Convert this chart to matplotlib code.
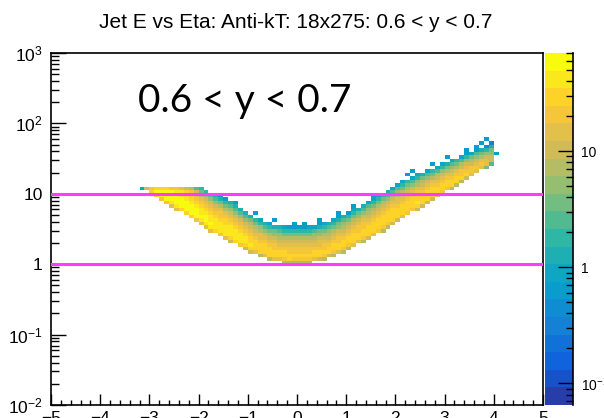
import numpy as np
import matplotlib
matplotlib.use("Agg")
import matplotlib.pyplot as plt
from matplotlib.colors import LinearSegmentedColormap, ListedColormap, BoundaryNorm
from matplotlib.ticker import FixedLocator, NullFormatter, FuncFormatter

plt.rcParams['font.family'] = ['Liberation Sans', 'DejaVu Sans']
plt.rcParams['mathtext.fontset'] = 'custom'
plt.rcParams['mathtext.rm'] = 'Liberation Sans'
plt.rcParams['mathtext.it'] = 'Liberation Sans:italic'
plt.rcParams['mathtext.bf'] = 'Liberation Sans:bold'

# ---------------- data ----------------
title = "Jet E vs Eta: Anti-kT: 18x275: 0.6 < y < 0.7"
overlay_label = "0.6 < y < 0.7"

x_range = (-5, 5)
y_range = (1e-2, 1e3)
z_range = (0.065, 70.0)
hlines = [10.0, 1.0]

# histogram binning
eta_edges = np.linspace(-5, 5, 101)
logE_edges = np.round(np.linspace(-2, 3, 101), 4)

# filled eta columns (bin centres)
col_eta = [-3.15, -3.05, -2.95, -2.85, -2.75, -2.65, -2.55, -2.45, -2.35, -2.25,
           -2.15, -2.05, -1.95, -1.85, -1.75, -1.65, -1.55, -1.45, -1.35, -1.25,
           -1.15, -1.05, -0.95, -0.85, -0.75, -0.65, -0.55, -0.45, -0.35, -0.25,
           -0.15, -0.05, 0.05, 0.15, 0.25, 0.35, 0.45, 0.55, 0.65, 0.75,
           0.85, 0.95, 1.05, 1.15, 1.25, 1.35, 1.45, 1.55, 1.65, 1.75,
           1.85, 1.95, 2.05, 2.15, 2.25, 2.35, 2.45, 2.55, 2.65, 2.75,
           2.85, 2.95, 3.05, 3.15, 3.25, 3.35, 3.45, 3.55, 3.65, 3.75,
           3.85, 3.95]
# lower edge of the band, log10(E)
col_lo = [1.09, 1.05, 1.00, 0.96, 0.92, 0.87, 0.83, 0.79, 0.75, 0.70,
          0.66, 0.62, 0.58, 0.54, 0.49, 0.45, 0.41, 0.37, 0.34, 0.30,
          0.26, 0.23, 0.19, 0.16, 0.13, 0.11, 0.08, 0.06, 0.05, 0.035,
          0.026, 0.022, 0.022, 0.026, 0.035, 0.05, 0.06, 0.08, 0.11, 0.13,
          0.16, 0.19, 0.23, 0.26, 0.30, 0.34, 0.37, 0.41, 0.45, 0.49,
          0.54, 0.58, 0.62, 0.66, 0.70, 0.75, 0.79, 0.83, 0.87, 0.92,
          0.96, 1.00, 1.05, 1.09, 1.13, 1.18, 1.22, 1.26, 1.31, 1.35,
          1.39, 1.44]
# upper (fading) edge of the band, log10(E)
col_hi = [1.45, 1.45, 1.45, 1.45, 1.45, 1.45, 1.45, 1.42, 1.37, 1.30,
          1.22, 1.14, 1.08, 1.04, 1.00, 0.96, 0.93, 0.89, 0.86, 0.82,
          0.78, 0.73, 0.69, 0.65, 0.62, 0.59, 0.57, 0.55, 0.54, 0.53,
          0.52, 0.52, 0.52, 0.52, 0.53, 0.54, 0.56, 0.58, 0.60, 0.63,
          0.66, 0.69, 0.72, 0.76, 0.80, 0.84, 0.88, 0.92, 0.96, 1.00,
          1.04, 1.08, 1.12, 1.16, 1.20, 1.23, 1.26, 1.29, 1.32, 1.35,
          1.38, 1.41, 1.44, 1.47, 1.50, 1.53, 1.56, 1.59, 1.62, 1.65,
          1.68, 1.72]
# peak content in each column
col_peak = [8, 30, 50, 60, 62, 62, 62, 62, 62, 60,
            60, 58, 56, 55, 54, 52, 50, 48, 46, 44,
            42, 40, 38, 36, 34, 32, 31, 30, 29, 28,
            28, 27, 27, 27, 27, 27, 27, 27, 27, 28,
            28, 29, 29, 30, 30, 31, 31, 32, 33, 34,
            34, 35, 35, 36, 36, 36, 36, 35, 35, 34,
            33, 32, 31, 30, 29, 27, 26, 24, 22, 20,
            16, 11]
# kinematic upper limit on the backward side only, log10(E)
cap_logE = 1.10
cap_eta_max = -1.9
cap_factor = 0.5
# shape across the band (bottom -> top), fraction of the column peak
prof_t = [0.0, 0.1, 0.2, 0.35, 0.5, 0.65, 0.8, 0.9, 1.0]
prof_f = [0.25, 0.9, 1.0, 0.8, 0.5, 0.3, 0.14, 0.065, 0.025]
# isolated low-content cells above the band (eta, log10 E)
speck_eta = [-1.55, -1.45, -1.25, -0.85, -0.45, -0.05, 0.15, 0.45, 0.85, 1.15,
             1.55, 2.25, 2.35, 2.75, 3.05, 3.45, 3.65, 3.75, 3.85, 4.05]
speck_logE = [0.975, 0.925, 0.875, 0.725, 0.625, 0.575, 0.575, 0.625, 0.725, 0.825,
              0.975, 1.275, 1.325, 1.425, 1.525, 1.625, 1.675, 1.725, 1.775, 1.575]
speck_val = [0.6] * len(speck_eta)

# ROOT kBird palette
bird_stops = [0.0, 0.125, 0.25, 0.375, 0.5, 0.625, 0.75, 0.875, 1.0]
bird_r = [0.2082, 0.0592, 0.0780, 0.0232, 0.1802, 0.5301, 0.8186, 0.9956, 0.9764]
bird_g = [0.1664, 0.3599, 0.5041, 0.6419, 0.7178, 0.7492, 0.7328, 0.7862, 0.9832]
bird_b = [0.5293, 0.8684, 0.8385, 0.7914, 0.6425, 0.4662, 0.3499, 0.1968, 0.0539]
n_contours = 20

# ---------------- build histogram ----------------
Hist = np.zeros((len(logE_edges) - 1, len(eta_edges) - 1))
for eta, lo, hi, pk in zip(col_eta, col_lo, col_hi, col_peak):
    j = int(np.searchsorted(eta_edges, eta) - 1)
    capped = (eta < cap_eta_max) and (hi > cap_logE)
    top = cap_logE if capped else hi
    for k in range(len(logE_edges) - 1):
        e0, e1 = logE_edges[k], logE_edges[k + 1]
        if e1 > lo and e0 < top - 1e-9:
            c = 0.5 * (e0 + e1)
            t = np.clip((c - lo) / (hi - lo), 0, 1)
            v = pk * np.interp(t, prof_t, prof_f)
            if capped and e1 >= cap_logE - 1e-9:
                v *= cap_factor
            Hist[k, j] = v
for se, sl, sv in zip(speck_eta, speck_logE, speck_val):
    j = int(np.searchsorted(eta_edges, se) - 1)
    k = int(np.searchsorted(logE_edges, sl) - 1)
    if Hist[k, j] == 0:
        Hist[k, j] = sv
Hm = np.ma.masked_where(Hist <= 0, Hist)

bird = LinearSegmentedColormap('bird', {
    'red': [(s, v, v) for s, v in zip(bird_stops, bird_r)],
    'green': [(s, v, v) for s, v in zip(bird_stops, bird_g)],
    'blue': [(s, v, v) for s, v in zip(bird_stops, bird_b)]}, N=255)
cols = [bird((i + 0.99) / n_contours) for i in range(n_contours)]
cmap = ListedColormap(cols)
cmap.set_over(cols[-1])
cmap.set_bad((1, 1, 1, 0))
levels = np.logspace(np.log10(z_range[0]), np.log10(z_range[1]), n_contours + 1)
norm = BoundaryNorm(levels, n_contours)

# ---------------- figure ----------------
W, H = 604, 418
fig = plt.figure(figsize=(W / 100, H / 100), dpi=100)

def px_rect(x0, y0, x1, y1):
    return [x0 / W, 1 - y1 / H, (x1 - x0) / W, (y1 - y0) / H]

ax = fig.add_axes(px_rect(51, 53, 543, 405))
cax = fig.add_axes(px_rect(545, 53, 573, 405))

ax.pcolormesh(eta_edges, 10.0 ** logE_edges, Hm, cmap=cmap, norm=norm, shading='flat')
for yv in hlines:
    ax.axhline(yv, color='#ff3dff', lw=2.2, zorder=3)

ax.set_yscale('log')
ax.set_xlim(*x_range)
ax.set_ylim(*y_range)
for s in ax.spines.values():
    s.set_linewidth(1.2)
ax.xaxis.set_major_locator(FixedLocator(np.arange(-5, 6, 1)))
ax.xaxis.set_minor_locator(FixedLocator(np.arange(-5, 5.01, 0.2)))
ax.yaxis.set_major_locator(FixedLocator([1e-2, 1e-1, 1, 10, 1e2, 1e3]))
ax.yaxis.set_minor_locator(FixedLocator([m * 10.0 ** d for d in range(-2, 3) for m in range(2, 10)]))
ylab = {1e-2: r'$\mathregular{10^{-2}}$', 1e-1: r'$\mathregular{10^{-1}}$', 1: '1', 10: '10',
        1e2: r'$\mathregular{10^{2}}$', 1e3: r'$\mathregular{10^{3}}$'}
ax.yaxis.set_major_formatter(FuncFormatter(lambda v, p: ylab.get(round(v, 6) if v < 1 else round(v), '')))
ax.yaxis.set_minor_formatter(NullFormatter())
ax.tick_params(axis='x', which='major', direction='in', length=7.6, width=1, labelsize=12.5, pad=4)
ax.tick_params(axis='x', which='minor', direction='in', length=3.8, width=1)
ax.tick_params(axis='y', which='major', direction='in', length=10.8, width=1, labelsize=12.5, pad=6)
ax.tick_params(axis='y', which='minor', direction='in', length=5.4, width=1)

# colour bar
cent = np.sqrt(levels[:-1] * levels[1:])
cax.pcolormesh([0, 1], levels, cent.reshape(-1, 1), cmap=cmap, norm=norm, shading='flat')
cax.set_yscale('log')
cax.set_ylim(*z_range)
cax.set_xlim(0, 1)
for side in ['left', 'top', 'bottom']:
    cax.spines[side].set_visible(False)
cax.spines['right'].set_linewidth(1.2)
cax.set_xticks([])
cax.yaxis.tick_right()
cax.yaxis.set_major_locator(FixedLocator([0.1, 1, 10]))
cax.yaxis.set_minor_locator(FixedLocator([m * 10.0 ** d for d in range(-2, 2) for m in range(2, 10)]))
clab = {0.1: r'$\mathregular{10^{-1}}$', 1: '1', 10: '10'}
cax.yaxis.set_major_formatter(FuncFormatter(lambda v, p: clab.get(round(v, 6) if v < 1 else round(v), '')))
cax.yaxis.set_minor_formatter(NullFormatter())
cax.tick_params(axis='y', which='major', direction='in', length=10.8, width=1, labelsize=10, pad=6)
cax.tick_params(axis='y', which='minor', direction='in', length=5.4, width=1)

fig.text(296 / W, 1 - 22 / H, title, ha='center', va='center', fontsize=15)
fig.text(138 / W, 1 - 112 / H, overlay_label, ha='left', va='baseline',
         fontsize=28, family=['Lato', 'DejaVu Sans'])

fig.savefig('out.png', dpi=100)
